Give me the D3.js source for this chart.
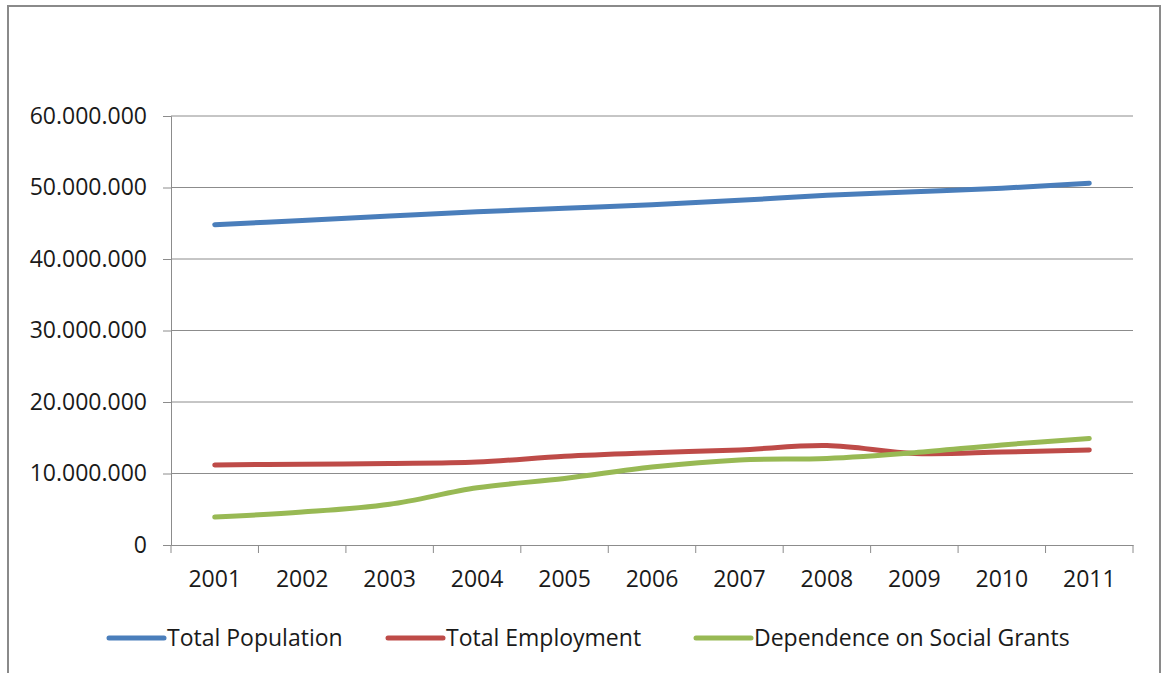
<!DOCTYPE html>
<html>
<head>
<meta charset="utf-8">
<script src="https://cdn.jsdelivr.net/npm/d3@7"></script>
<style>
  body { margin: 0; background: #fff; }
  svg text { font-family: "Open Sans", sans-serif; fill: #1a1a1a; }
</style>
</head>
<body>
<div id="chart"></div>
<script>
const years = ["2001", "2002", "2003", "2004", "2005", "2006", "2007", "2008", "2009", "2010", "2011"];
const totalPopulation = [44.8, 45.4, 46.0, 46.6, 47.1, 47.6, 48.2, 48.9, 49.4, 49.9, 50.6].map(v => v * 1e6);
const totalEmployment = [11.2, 11.3, 11.4, 11.6, 12.4, 12.9, 13.3, 13.9, 12.8, 13.0, 13.3].map(v => v * 1e6);
const socialGrants = [3.9, 4.6, 5.7, 8.0, 9.3, 10.9, 11.9, 12.1, 12.9, 14.0, 14.9].map(v => v * 1e6);
const yTicks = [0, 10e6, 20e6, 30e6, 40e6, 50e6, 60e6];

const series = [
    { name: "Total Population", values: totalPopulation, color: "#4a7ebb" },
    { name: "Total Employment", values: totalEmployment, color: "#be4b48" },
    { name: "Dependence on Social Grants", values: socialGrants, color: "#98b954" }
];

const W = 1163, H = 673;
const margin = { top: 116, right: 30, bottom: 128, left: 171 },
      width = W - margin.left - margin.right,
      height = H - margin.top - margin.bottom;

const svg = d3.select("#chart").append("svg")
    .attr("width", W)
    .attr("height", H);

// outer chart frame
svg.append("rect")
    .attr("x", 8).attr("y", 6)
    .attr("width", 1152).attr("height", H + 10)
    .attr("fill", "#fff")
    .attr("stroke", "#8a8a8a")
    .attr("stroke-width", 2);

const g = svg.append("g")
    .attr("transform", `translate(${margin.left},${margin.top})`);

const x = d3.scaleBand().domain(years).range([0, width]);
const y = d3.scaleLinear().domain([0, 60e6]).range([height, 0]);

const fmt = v => d3.format(",")(v).replace(/,/g, ".");

// gridlines
g.selectAll(".grid")
    .data(yTicks.filter(d => d > 0))
    .enter().append("line")
    .attr("x1", 0).attr("x2", width)
    .attr("y1", d => y(d)).attr("y2", d => y(d))
    .attr("stroke", "#8c8c8c")
    .attr("stroke-width", 1);

// y axis
const yAxis = g.append("g")
    .call(d3.axisLeft(y).tickValues(yTicks).tickFormat(fmt).tickSize(8).tickPadding(16));
yAxis.selectAll("line, path").attr("stroke", "#8c8c8c");
yAxis.selectAll("text").style("font-size", "23px").attr("fill", "#1a1a1a");

// x axis
const xAxis = g.append("g")
    .attr("transform", `translate(0,${height})`)
    .call(d3.axisBottom(x).tickSize(0).tickPadding(26));
xAxis.select("path").attr("stroke", "#8c8c8c");
xAxis.selectAll("text").style("font-size", "23px").attr("fill", "#1a1a1a");
xAxis.selectAll(".edge")
    .data(years.concat(["end"]))
    .enter().append("line")
    .attr("x1", (d, i) => i * x.step()).attr("x2", (d, i) => i * x.step())
    .attr("y1", 0).attr("y2", 8)
    .attr("stroke", "#8c8c8c");

const line = d3.line()
    .x((d, i) => x(years[i]) + x.bandwidth() / 2)
    .y(d => y(d))
    .curve(d3.curveCatmullRom);

g.selectAll(".series")
    .data(series)
    .enter().append("path")
    .attr("d", d => line(d.values))
    .attr("fill", "none")
    .attr("stroke", d => d.color)
    .attr("stroke-width", 5)
    .attr("stroke-linecap", "round");

// legend
const legendX = [109, 388, 696];
const legend = svg.selectAll(".legend")
    .data(series)
    .enter().append("g")
    .attr("transform", (d, i) => `translate(${legendX[i]},638)`);
legend.append("line")
    .attr("x1", 0).attr("x2", 55)
    .attr("stroke", d => d.color)
    .attr("stroke-width", 5)
    .attr("stroke-linecap", "round");
legend.append("text")
    .attr("x", 58)
    .attr("y", 8)
    .style("font-size", "23px")
    .text(d => d.name);
</script>
</body>
</html>
